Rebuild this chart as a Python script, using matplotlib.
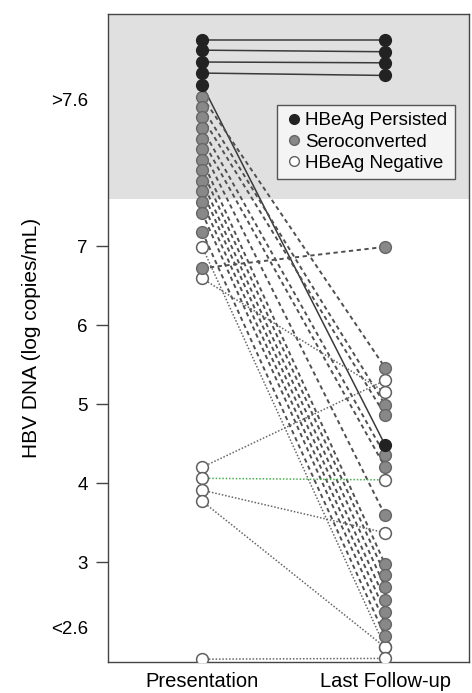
import matplotlib.pyplot as plt

plt.rcParams['font.family'] = ['Liberation Sans', 'DejaVu Sans']

# y values: 2.6-7.6 on the log scale, the >7.6 and <2.6
# groups are stacked in their own bands as drawn in the figure
pres_persist = [9.61, 9.48, 9.33, 9.19, 9.04]
last_persist = [9.61, 9.46, 9.32, 9.16, 4.48]

pres_sero = [8.89, 8.76, 8.63, 8.49, 8.35, 8.23, 8.09, 7.96, 7.82, 7.70, 7.56, 7.42, 7.18, 6.72]
last_sero = [5.46, 4.99, 4.86, 4.35, 4.20, 3.59, 2.97, 2.84, 2.68, 2.52, 2.37, 2.22, 2.06, 6.99]

pres_neg = [6.99, 6.59, 4.20, 4.06, 3.91, 3.77, 1.77]
last_neg = [1.92, 5.15, 5.30, 4.04, 3.37, 1.92, 1.78]

major_ticks = [3, 4, 5, 6, 7]
band_ticks = [2.17, 8.85]
band_labels = ['<2.6', '>7.6']
x_labels = ['Presentation', 'Last Follow-up']

fig = plt.figure(figsize=(4.72, 6.93), dpi=100)
ax = fig.add_axes([0.229, 0.0447, 0.765, 0.935])
ax.set_xlim(-0.514, 1.459)
ax.set_ylim(1.734, 9.937)

# shaded band of the >7.6 zone
ax.axhspan(7.6, 9.937, color='#e0e0e0', zorder=0, lw=0)

for a, b in zip(pres_persist, last_persist):
    ax.plot([0, 1], [a, b], color='#3a3a3a', lw=1.1, zorder=2)
for a, b in zip(pres_sero, last_sero):
    ax.plot([0, 1], [a, b], color='#505050', lw=1.4, dashes=(2.2, 1.8), zorder=2)
for i, (a, b) in enumerate(zip(pres_neg, last_neg)):
    c = '#4caf50' if i == 3 else '#666666'
    ax.plot([0, 1], [a, b], color=c, lw=1.1, dashes=(1, 1.2), zorder=2)

ms = 8.5
ax.plot([0] * len(pres_neg), pres_neg, 'o', ms=ms, mfc='white', mec='#606060', mew=1.1, ls='none', zorder=3)
ax.plot([1] * len(last_neg), last_neg, 'o', ms=ms, mfc='white', mec='#606060', mew=1.1, ls='none', zorder=3)
ax.plot([0] * len(pres_sero), pres_sero, 'o', ms=ms, mfc='#888888', mec='#666666', mew=1, ls='none', zorder=4)
ax.plot([1] * len(last_sero), last_sero, 'o', ms=ms, mfc='#888888', mec='#666666', mew=1, ls='none', zorder=4)
ax.plot([0] * len(pres_persist), pres_persist, 'o', ms=ms, mfc='#222222', mec='#222222', ls='none', zorder=5)
ax.plot([1] * len(last_persist), last_persist, 'o', ms=ms, mfc='#222222', mec='#222222', ls='none', zorder=5)

# legend entries
ax.plot([], [], 'o', ms=7, mfc='#222222', mec='#222222', ls='none', label='HBeAg Persisted')
ax.plot([], [], 'o', ms=7, mfc='#888888', mec='#666666', ls='none', label='Seroconverted')
ax.plot([], [], 'o', ms=7, mfc='white', mec='#606060', ls='none', label='HBeAg Negative')
handles, labels = ax.get_legend_handles_labels()
leg = ax.legend(handles[-3:], labels[-3:], loc='upper right', bbox_to_anchor=(0.961, 0.86),
                borderaxespad=0, fontsize=13.5, frameon=True, fancybox=False,
                handletextpad=0.1, handlelength=1.0, borderpad=0.4, labelspacing=0.22)
leg.get_frame().set_edgecolor('#555555')
leg.get_frame().set_facecolor('#f4f4f4')
leg.get_frame().set_linewidth(1.0)
leg.get_frame().set_alpha(1)

ax.set_yticks(major_ticks)
ax.set_yticks(band_ticks, band_labels, minor=True)
ax.tick_params(axis='y', which='major', length=8.5, width=1, color='#444444', pad=6, labelsize=13.5)
ax.tick_params(axis='y', which='minor', length=0, pad=14.5, labelsize=13.5)
ax.set_xticks([0, 1], x_labels)
ax.tick_params(axis='x', length=0, pad=7, labelsize=14.5)
ax.set_ylabel('HBV DNA (log copies/mL)', fontsize=15, labelpad=7)

for s in ax.spines.values():
    s.set_color('#444444')
    s.set_linewidth(1.0)

fig.savefig('out.png', dpi=100)
